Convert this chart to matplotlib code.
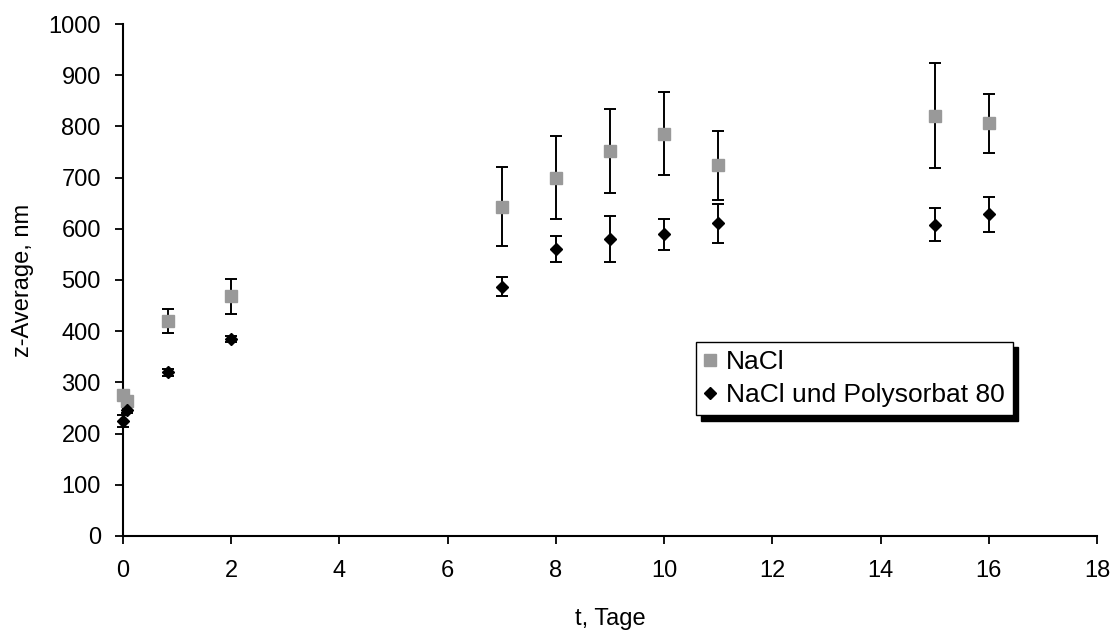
import numpy as np
import matplotlib.pyplot as plt

plt.rcParams['font.family'] = ['Liberation Sans', 'DejaVu Sans']

# NaCl
t_nacl = [0, 0.08, 0.83, 2, 7, 8, 9, 10, 11, 15, 16]
z_nacl = [275, 263, 420, 468, 643, 700, 752, 786, 724, 821, 806]
err_nacl = [8, 10, 23, 34, 77, 81, 82, 81, 67, 103, 58]

# NaCl und Polysorbat 80
t_poly = [0, 0.08, 0.83, 2, 7, 8, 9, 10, 11, 15, 16]
z_poly = [225, 246, 320, 384, 487, 560, 580, 589, 611, 608, 628]
err_poly = [12, 6, 7, 6, 19, 25, 45, 30, 38, 32, 35]

fig = plt.figure(figsize=(11.12, 6.32), dpi=100)
ax = fig.add_axes([0.1106, 0.152, 0.8759, 0.810])

for t, z, e, m, c, s, lab in [(t_nacl, z_nacl, err_nacl, 's', '#999999', 9.3, 'NaCl'),
                              (t_poly, z_poly, err_poly, 'D', 'black', 6.3, 'NaCl und Polysorbat 80')]:
    ebar = ax.errorbar(t, z, yerr=e, fmt=m, color=c, ms=s, mec=c,
                       ecolor='black', elinewidth=1.4, capsize=4, capthick=1.4,
                       label=lab, zorder=3)
    ebar.lines[0].set_clip_on(False)
    for art in list(ebar.lines[1]) + list(ebar.lines[2]):
        art.set_clip_on(False)

ax.set_xlim(0, 18)
ax.set_ylim(0, 1000)
ax.set_xticks(np.arange(0, 19, 2))
ax.set_yticks(np.arange(0, 1001, 100))
ax.spines['top'].set_visible(False)
ax.spines['right'].set_visible(False)
ax.spines['left'].set_linewidth(1.5)
ax.spines['bottom'].set_linewidth(1.5)
ax.tick_params(direction='out', length=6, width=1.3, labelsize=17)
ax.tick_params(axis='x', pad=11)
ax.tick_params(axis='y', pad=10)
ax.set_xlabel('t, Tage', fontsize=17, labelpad=19)
ax.set_ylabel('z-Average, nm', fontsize=17, labelpad=10)

handles, labels = ax.get_legend_handles_labels()
handles = [h[0] for h in handles]
leg = ax.legend(handles, labels, loc='upper left', bbox_to_anchor=(0.588, 0.379),
                fontsize=19, fancybox=False, edgecolor='black', framealpha=1,
                shadow={'color': 'black', 'alpha': 1, 'ox': 4, 'oy': -4},
                handlelength=0.5, handletextpad=0.35, borderpad=0.3, labelspacing=0.35,
                markerscale=1.0, borderaxespad=0)
leg.get_frame().set_linewidth(1.0)

fig.savefig('out.png', dpi=100)
